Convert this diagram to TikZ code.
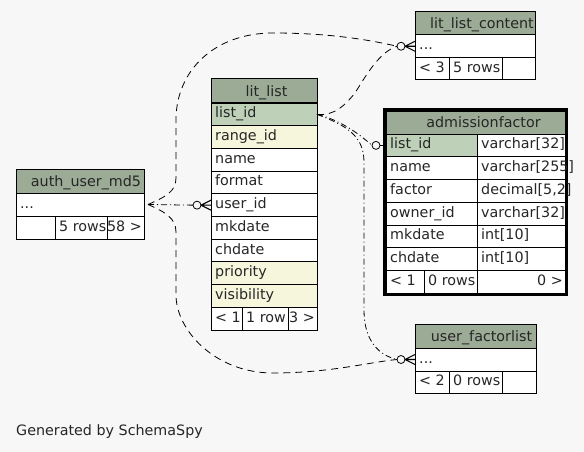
\documentclass[tikz,border=0pt]{standalone}
\usepackage{fontspec}
\setmainfont{DejaVu Sans}
\definecolor{bgc}{HTML}{F7F7F7}
\definecolor{hdr}{HTML}{9BAB96}
\definecolor{pk}{HTML}{BED1B8}
\definecolor{idx}{HTML}{F5F6DC}
\newcommand\tfont{\fontsize{14.3pt}{16pt}\selectfont}
\tikzset{
 cellbox/.style={draw=black, line width=1pt, anchor=north west, inner sep=0pt, outer sep=0pt, fill=white},
 lab/.style={font=\tfont, inner sep=0pt, text height=10.5pt, text depth=3.5pt, text=black!85},
 hlab/.style={font=\tfont, inner sep=0pt, text height=10.5pt, text depth=0.5pt, text=black!85},
 lt/.style={label={[lab,anchor=west,xshift=4pt]west:#1}},
 rt/.style={label={[lab,anchor=east,xshift=-2pt]east:#1}},
 ht/.style 2 args={label={[hlab,anchor=center,xshift=#2]center:#1}},
 conn/.style={line width=0.8pt},
 dd/.style={dash pattern=on 6pt off 3pt on 1pt off 3pt},
 ds/.style={dash pattern=on 7pt off 5pt},
}
\newcommand\tc[6]{\node[cellbox, minimum width=#4pt, minimum height=#5pt, #6] (#1) at (#2,#3) {};}
\newcommand\crowfoot[1]{%
 \draw[conn,fill=bgc] ([xshift=-14pt]#1.west) circle (4pt);
 \draw[line width=1.1pt] ([xshift=-10pt]#1.west) -- ([yshift=5pt]#1.west)
   ([xshift=-10pt]#1.west) -- (#1.west)
   ([xshift=-10pt]#1.west) -- ([yshift=-5pt]#1.west);}
\begin{document}
\begin{tikzpicture}[x=1pt,y=-1pt]
\fill[bgc] (0,0) rectangle (584,452);
\useasboundingbox (0,0) rectangle (584,452);

% admissionfactor frame (drawn first, cells on top)
\coordinate (afnw) at (386,111);
\coordinate (afse) at (565,293.25);
\draw[line width=3pt] ([shift={(-1.5,-1.5)}]afnw) rectangle ([shift={(1.5,1.5)}]afse);

% auth_user_md5
\tc{au-h}{16}{169}{128}{24}{fill=hdr, ht={auth\_user\_md5}{6pt}}
\tc{au-r1}{16}{193}{128}{23}{lt={...}}
\tc{au-f1}{16}{216}{39}{23}{}
\tc{au-f2}{55}{216}{52}{23}{lt={5 rows}}
\tc{au-f3}{107}{216}{37}{23}{rt={58 >}}

% lit_list
\tc{ll-h}{211}{79}{106}{24}{fill=hdr, ht={lit\_list}{2.5pt}}
\tc{ll-lid}{211}{103}{106}{22.7}{fill=pk, lt={list\_id}}
\tc{ll-rid}{211}{125.7}{106}{22.7}{fill=idx, lt={range\_id}}
\tc{ll-name}{211}{148.4}{106}{22.7}{lt={name}}
\tc{ll-fmt}{211}{171.1}{106}{22.7}{lt={format}}
\tc{ll-uid}{211}{193.8}{106}{22.7}{lt={user\_id}}
\tc{ll-mk}{211}{216.5}{106}{22.7}{lt={mkdate}}
\tc{ll-ch}{211}{239.2}{106}{22.7}{lt={chdate}}
\tc{ll-pr}{211}{261.9}{106}{22.7}{fill=idx, lt={priority}}
\tc{ll-vis}{211}{284.6}{106}{22.7}{fill=idx, lt={visibility}}
\tc{ll-f1}{211}{307.3}{31}{22.7}{lt={< 1}}
\tc{ll-f2}{242}{307.3}{46}{22.7}{lt={1 row}}
\tc{ll-f3}{288}{307.3}{29}{22.7}{rt={3 >}}

% admissionfactor
\tc{af-h}{386}{111}{179}{23}{fill=hdr, ht={admissionfactor}{8pt}}
\tc{af-lid}{386}{134}{91}{22.75}{fill=pk, lt={list\_id}}
\tc{af-lidt}{477}{134}{88}{22.75}{lt={varchar[32]}}
\tc{af-name}{386}{156.75}{91}{22.75}{lt={name}}
\tc{af-namet}{477}{156.75}{88}{22.75}{lt={varchar[255]}}
\tc{af-fac}{386}{179.5}{91}{22.75}{lt={factor}}
\tc{af-fact}{477}{179.5}{88}{22.75}{lt={decimal[5,2]}}
\tc{af-own}{386}{202.25}{91}{22.75}{lt={owner\_id}}
\tc{af-ownt}{477}{202.25}{88}{22.75}{lt={varchar[32]}}
\tc{af-mk}{386}{225}{91}{22.75}{lt={mkdate}}
\tc{af-mkt}{477}{225}{88}{22.75}{lt={int[10]}}
\tc{af-ch}{386}{247.75}{91}{22.75}{lt={chdate}}
\tc{af-cht}{477}{247.75}{88}{22.75}{lt={int[10]}}
\tc{af-f1}{386}{270.5}{38}{22.75}{lt={< 1}}
\tc{af-f2}{424}{270.5}{53}{22.75}{lt={0 rows}}
\tc{af-f3}{477}{270.5}{88}{22.75}{rt={0 >}}

% lit_list_content
\tc{lc-h}{415}{12}{120}{23}{fill=hdr, ht={lit\_list\_content}{7pt}}
\tc{lc-r1}{415}{35}{120}{22.5}{lt={...}}
\tc{lc-f1}{415}{57.5}{34}{22.5}{lt={< 3}}
\tc{lc-f2}{449}{57.5}{53}{22.5}{lt={5 rows}}
\tc{lc-f3}{502}{57.5}{33}{22.5}{}

% user_factorlist
\tc{uf-h}{415}{324}{121}{24}{fill=hdr, ht={user\_factorlist}{6pt}}
\tc{uf-r1}{415}{348}{121}{23}{lt={...}}
\tc{uf-f1}{415}{371}{34}{22.5}{lt={< 2}}
\tc{uf-f2}{449}{371}{53}{22.5}{lt={0 rows}}
\tc{uf-f3}{502}{371}{34}{22.5}{}

% connectors
\coordinate (aup) at ([xshift=4pt]au-r1.east);
\coordinate (llp) at (ll-lid.east);
\draw[conn,dd] (aup) -- ([xshift=-18pt]ll-uid.west);
\draw[conn,ds] (aup) .. controls (165,197) and (176,192) .. (176,178) -- (176,120)
  .. controls (176,70) and (215,33) .. (273,33)
  .. controls (330,33) and (370,40) .. ([xshift=-18pt]lc-r1.west);
\draw[conn,ds] (aup) .. controls (165,212) and (176,218) .. (176,232) -- (176,295)
  .. controls (176,330) and (215,373) .. (273,373)
  .. controls (330,373) and (370,362) .. ([xshift=-18pt]uf-r1.west);
\draw[conn,dd] (llp) .. controls (340,120) and (358,133) .. ([xshift=-14pt]af-lid.west);
\draw[conn,ds] (llp) .. controls (335,116) and (345,105) .. (355,93)
  .. controls (368,72) and (380,52) .. ([xshift=-18pt]lc-r1.west);
\draw[conn,dd] (llp) .. controls (345,125) and (364,135) .. (364,162) -- (364,310)
  .. controls (364,340) and (378,355) .. ([xshift=-18pt]uf-r1.west);

% ends
\crowfoot{ll-uid}
\crowfoot{lc-r1}
\crowfoot{uf-r1}
\draw[conn,fill=bgc] ([xshift=-10pt]af-lid.west) circle (4pt);
\draw[conn] ([xshift=-6pt]af-lid.west) -- ([xshift=-1.5pt]af-lid.west);

\node[lab, anchor=base west] (gen) at (16,435) {Generated by SchemaSpy};
\end{tikzpicture}
\end{document}
